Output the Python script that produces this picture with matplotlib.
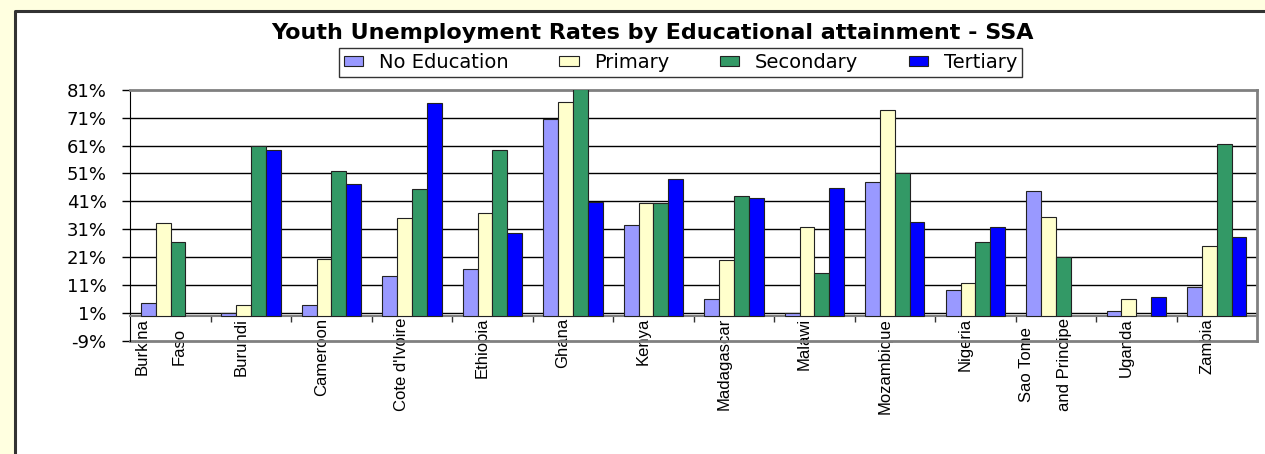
import matplotlib
matplotlib.use("Agg")
import matplotlib.pyplot as plt
import matplotlib.transforms as mtransforms
from matplotlib.patches import Rectangle
from matplotlib.lines import Line2D
from matplotlib.ticker import FixedLocator, FuncFormatter
import numpy as np

# Youth unemployment rates (%)
countries = ["Burkina\nFaso", "Burundi", "Cameroon", "Cote d'Ivoire", "Ethiopia",
             "Ghana", "Kenya", "Madagascar", "Malawi", "Mozambique", "Nigeria",
             "Sao Tome\nand Principe", "Uganda", "Zambia"]
no_education = [4.6, 1.2, 3.9, 14.4, 16.9, 70.6, 32.6, 6.2, 0.9, 47.8, 9.2, 44.7, 1.7, 10.4]
primary = [33.1, 3.9, 20.5, 35.1, 36.7, 76.7, 40.3, 20.0, 31.9, 73.7, 11.7, 35.5, 6.2, 25.0]
secondary = [26.5, 60.9, 51.8, 45.6, 59.4, 81.2, 40.5, 42.8, 15.3, 51.2, 26.5, 21.0, np.nan, 61.5]
tertiary = [np.nan, 59.4, 47.4, 76.1, 29.6, 40.8, 48.9, 42.2, 45.8, 33.6, 31.9, np.nan, 6.8, 28.1]

series = [("No Education", no_education, "#9999FF"),
          ("Primary", primary, "#FFFFCC"),
          ("Secondary", secondary, "#339966"),
          ("Tertiary", tertiary, "#0000FF")]
y_ticks = [-9, 1, 11, 21, 31, 41, 51, 61, 71, 81]

fig = plt.figure(figsize=(12.65, 4.54), dpi=100, facecolor="#FFFFE0")

# white chart area, frame visible only on the left and top edges
fx, fy = 15 / 1265, 1 - 10.7 / 454
fig.patches.append(Rectangle((fx, -0.1), 1.0, fy + 0.1, transform=fig.transFigure,
                             facecolor="white", edgecolor="none", zorder=-5))
fig.add_artist(Line2D([fx, fx, 1.05], [-0.05, fy, fy], transform=fig.transFigure,
                      color="#333333", linewidth=2.2, zorder=-4))

ax = fig.add_axes([130.3 / 1265, 113 / 454, (1257 - 130.3) / 1265, (341 - 89.7) / 454])
ax.set_facecolor("white")

x = np.arange(len(countries))
w = 0.184
for i, (name, vals, color) in enumerate(series):
    ax.bar(x + (i - 1.5) * w, vals, w, color=color, edgecolor="#222222",
           linewidth=0.8, label=name, zorder=3)

ax.set_xlim(-0.5, len(countries) - 0.5)
ax.set_ylim(-9, 81)

# gridlines
for t in y_ticks[1:-1]:
    ax.axhline(t, color="black", linewidth=1.0, zorder=1)
ax.axhline(-9, color="#808080", linewidth=2, zorder=2, clip_on=False)

# y axis
ax.yaxis.set_major_locator(FixedLocator(y_ticks))
ax.yaxis.set_major_formatter(FuncFormatter(lambda v, p: f"{v:.0f}%"))
ax.tick_params(axis="y", direction="out", length=6, width=1, color="black",
               pad=11, labelsize=13)
for lab in ax.get_yticklabels():
    lab.set_fontfamily("DejaVu Sans")

# category axis crossing at 0
ax.spines["bottom"].set_position(("data", 0))
ax.spines["bottom"].set_color("#808080")
ax.spines["bottom"].set_linewidth(1.5)
ax.spines["left"].set_color("black")
ax.spines["top"].set_color("#808080")
ax.spines["top"].set_linewidth(2)
ax.spines["right"].set_color("#808080")
ax.spines["right"].set_linewidth(2)

ax.set_xticks(x)
ax.set_xticks(x[:-1] + 0.5, minor=True)
ax.tick_params(axis="x", which="major", length=0, pad=1.5)
ax.tick_params(axis="x", which="minor", length=4, width=1, color="#333333", direction="out")
ax.set_xticklabels(countries, rotation=90, fontsize=12, family="Liberation Sans",
                   va="top", ha="center", linespacing=2.9)
shift = mtransforms.ScaledTranslation(-10 / 100, 0, fig.dpi_scale_trans)
for lab in ax.get_xticklabels():
    lab.set_transform(lab.get_transform() + shift)

fig.text(0.5154, 0.927, "Youth Unemployment Rates by Educational attainment - SSA",
         ha="center", va="center", fontsize=16, fontweight="bold", family="DejaVu Sans")

leg = fig.legend(loc="center", bbox_to_anchor=(0.538, 0.862), ncol=4, frameon=True,
                 fancybox=False, edgecolor="black",
                 prop={"family": "DejaVu Sans", "size": 14},
                 handlelength=1.0, handleheight=0.45, handletextpad=0.8,
                 columnspacing=2.6, borderpad=0.25, borderaxespad=0)
leg.get_frame().set_linewidth(1)

fig.savefig("out.png", dpi=100, facecolor=fig.get_facecolor())
